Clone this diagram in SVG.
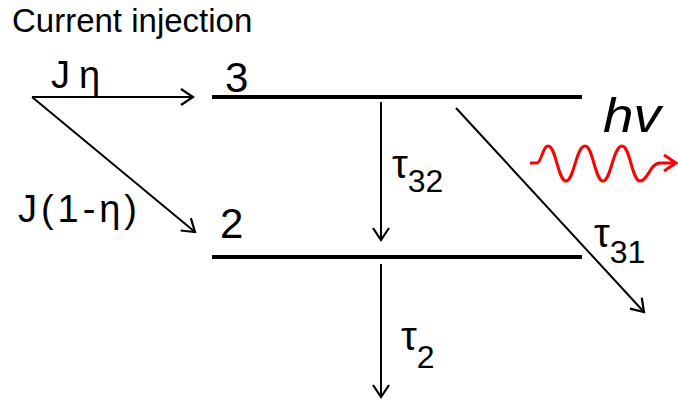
<svg xmlns="http://www.w3.org/2000/svg" width="678" height="400" viewBox="0 0 678 400">
<style>
text{font-family:"Liberation Sans",Arial,sans-serif;fill:#000}
.lvl{stroke:#000;stroke-width:4;fill:none}
.arr{stroke:#000;stroke-width:2;fill:none;marker-end:url(#ah)}
.tau{font-size:40px}
.sub{font-size:32px}
</style>
<defs>
<marker id="ah" markerUnits="userSpaceOnUse" markerWidth="20" markerHeight="20" viewBox="0 0 20 20" refX="17" refY="10" orient="auto">
<path d="M5,2 L17,10 L5,18" fill="none" stroke="#000" stroke-width="2.2"/>
</marker>
<marker id="rh" markerUnits="userSpaceOnUse" markerWidth="20" markerHeight="20" viewBox="0 0 20 20" refX="17" refY="10" orient="auto">
<path d="M5,2 L17,10 L5,18" fill="none" stroke="#f00" stroke-width="3"/>
</marker>
</defs>
<text x="12" y="32" font-size="33">Current injection</text>
<g id="level3"><line class="lvl" x1="212" y1="97" x2="582" y2="97"/><text x="225" y="92" font-size="42">3</text></g>
<g id="level2"><line class="lvl" x1="212" y1="257" x2="582" y2="257"/><text x="220" y="238" font-size="42">2</text></g>
<g id="connectors">
<line class="arr" x1="32" y1="97" x2="193" y2="97"/>
<line class="arr" x1="32" y1="97" x2="195" y2="232"/>
<line class="arr" x1="381" y1="102" x2="381" y2="240"/>
<line class="arr" x1="381" y1="264" x2="381" y2="397"/>
<line class="arr" x1="456" y1="108" x2="644" y2="312"/>
<path d="M530,163 L537,163 C541,163 543,146 548,146 C556,146 558,181 566,181 C574,181 576,146 585,146 C593,146 595,181 603,181 C611,181 613,146 622,146 C630,146 632,181 640,181 C648,181 650,163 660,163 L676,163" fill="none" stroke="#f00" stroke-width="3" marker-end="url(#rh)"/>
</g>
<g id="labels">
<text x="51" y="88" font-size="38">J<tspan x="79">η</tspan></text>
<text x="18" y="222" font-size="38" textLength="119" lengthAdjust="spacing">J(1-η)</text>
<text x="392" y="178" class="tau">τ<tspan class="sub" dy="14">32</tspan></text>
<text x="594" y="247" class="tau">τ<tspan class="sub" dy="16">31</tspan></text>
<text x="401" y="350" class="tau">τ<tspan class="sub" dy="18">2</tspan></text>
<text x="603" y="132" font-size="48" font-style="italic" textLength="58" lengthAdjust="spacingAndGlyphs">hv</text>
</g>
</svg>
